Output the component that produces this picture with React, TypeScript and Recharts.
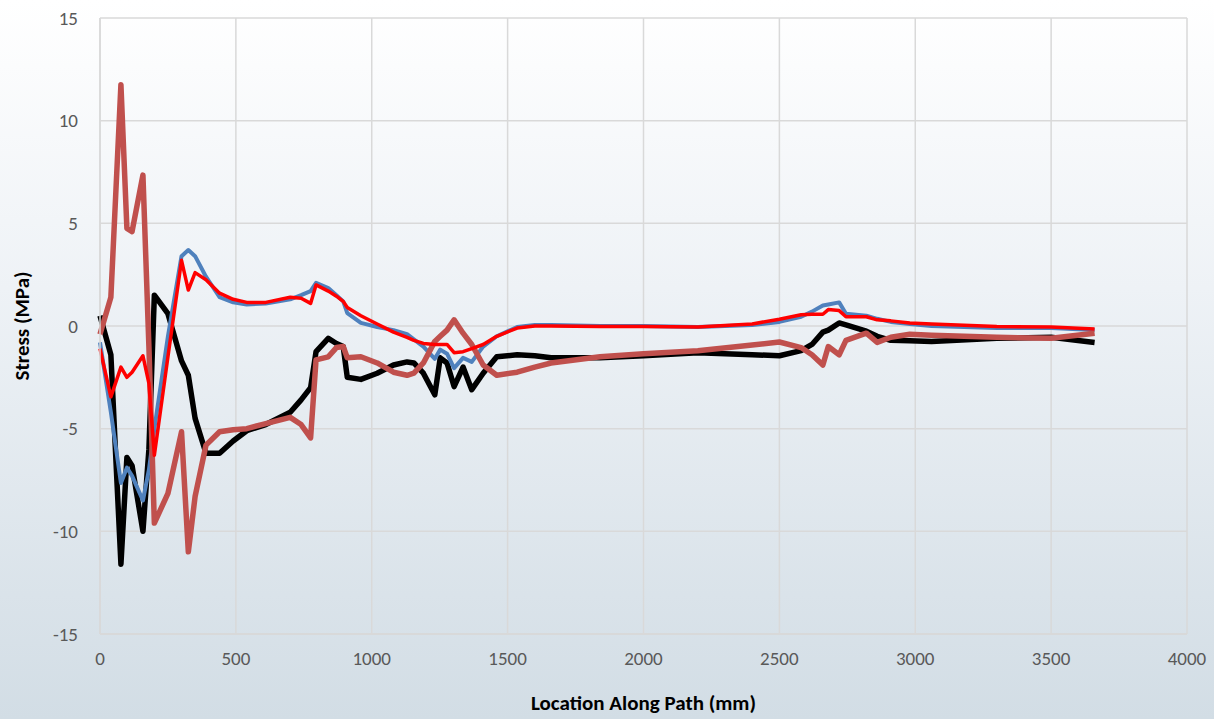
import { LineChart, Line, XAxis, YAxis, CartesianGrid } from "recharts";

// location along path (mm)
const locations = [
  0, 40, 77, 99, 118, 158, 180, 200, 250, 300, 325, 350, 390, 440, 490, 540, 610, 700, 740, 775,
  795, 840, 870, 895, 910, 960, 1020, 1080, 1130, 1155, 1190, 1232, 1252, 1277, 1303, 1336, 1368,
  1410, 1460, 1535, 1600, 1660, 1840, 2000, 2200, 2400, 2500, 2580, 2620, 2660, 2680, 2720, 2745,
  2820, 2860, 2910, 2980, 3060, 3300, 3500, 3660,
];

// stress (MPa)
const blackSeries = [
  0.5, -1.4, -11.6, -6.4, -6.8, -10.0, -6.0, 1.5, 0.6, -1.7, -2.4, -4.5, -6.2, -6.2, -5.6, -5.1, -4.8, -4.2, -3.6, -3.0,
  -1.25, -0.6, -0.85, -1.0, -2.5, -2.6, -2.3, -1.9, -1.75, -1.8, -2.3, -3.35, -1.55, -1.8, -2.95, -2.0, -3.1,
  -2.3, -1.5, -1.4, -1.45, -1.55, -1.55, -1.45, -1.3, -1.4, -1.45, -1.2, -0.9, -0.3, -0.2, 0.15, 0.05,
  -0.25, -0.5, -0.7, -0.72, -0.75, -0.6, -0.55, -0.8,
];

const blueSeries = [
  -0.8, -4.2, -7.65, -6.9, -7.3, -8.5, -7.0, -5.0, -0.5, 3.4, 3.7, 3.4, 2.4, 1.4, 1.15, 1.05, 1.1, 1.3, 1.5, 1.7,
  2.1, 1.85, 1.5, 1.2, 0.63, 0.15, -0.05, -0.2, -0.4, -0.65, -1.0, -1.6, -1.15, -1.35, -2.05, -1.55, -1.75,
  -1.0, -0.5, -0.05, 0.05, 0.05, 0.0, 0.0, -0.05, 0.05, 0.2, 0.45, 0.7, 1.0, 1.05, 1.15, 0.6,
  0.5, 0.35, 0.2, 0.1, 0.0, -0.1, -0.1, -0.2,
];

const brownSeries = [
  -0.4, 1.4, 11.75, 4.75, 4.6, 7.35, -1.0, -9.6, -8.15, -5.15, -11.0, -8.3, -5.8, -5.15, -5.05, -5.0, -4.75, -4.45, -4.8, -5.45,
  -1.65, -1.5, -1.05, -1.0, -1.55, -1.5, -1.8, -2.25, -2.4, -2.3, -1.8, -0.75, -0.5, -0.2, 0.3, -0.35, -0.9,
  -1.9, -2.4, -2.25, -2.0, -1.8, -1.5, -1.35, -1.2, -0.93, -0.78, -1.05, -1.4, -1.9, -1.0, -1.4, -0.7,
  -0.35, -0.8, -0.55, -0.4, -0.45, -0.55, -0.6, -0.35,
];

const redSeries = [
  -1.1, -3.45, -2.0, -2.5, -2.25, -1.45, -2.8, -6.3, -1.5, 3.2, 1.75, 2.6, 2.25, 1.6, 1.3, 1.15, 1.15, 1.4, 1.35, 1.1,
  2.0, 1.7, 1.45, 1.2, 0.9, 0.5, 0.1, -0.3, -0.55, -0.7, -0.85, -0.9, -0.9, -0.9, -1.3, -1.25, -1.1,
  -0.9, -0.5, -0.1, 0.0, 0.0, -0.03, -0.03, -0.05, 0.1, 0.33, 0.55, 0.57, 0.57, 0.8, 0.75, 0.45,
  0.45, 0.3, 0.25, 0.15, 0.1, -0.03, -0.05, -0.15,
];

const xTicks = [0, 500, 1000, 1500, 2000, 2500, 3000, 3500, 4000];
const yTicks = [-15, -10, -5, 0, 5, 10, 15];

const data = locations.map((x, i) => ({
  x,
  black: blackSeries[i],
  blue: blueSeries[i],
  brown: brownSeries[i],
  red: redSeries[i],
}));

const font = "Carlito, Calibri, 'Liberation Sans Narrow', 'Open Sans', sans-serif";

export default function App() {
  return (
    <div
      style={{
        position: "fixed",
        left: 0,
        top: 0,
        width: 1214,
        height: 719,
        background: "linear-gradient(180deg, #ffffff 0%, #eef2f6 40%, #d2dde5 100%)",
        fontFamily: font,
      }}
    >
      <LineChart width={1214} height={719} data={data} margin={{ top: 18, right: 27, left: 0, bottom: 0 }}>
        <CartesianGrid stroke="#d9d9d9" strokeWidth={1.5} />
        <XAxis
          dataKey="x"
          type="number"
          domain={[0, 4000]}
          ticks={xTicks}
          height={85}
          tickLine={false}
          tickSize={0}
          tickMargin={18}
          axisLine={{ stroke: "#d9d9d9", strokeWidth: 1.5 }}
          tick={{ fill: "#595959", fontSize: 19, fontFamily: font }}
          label={{
            value: "Location Along Path (mm)",
            position: "insideBottom",
            offset: 9,
            style: { fill: "#000", fontSize: 21, fontWeight: 700, fontFamily: font },
          }}
        />
        <YAxis
          type="number"
          domain={[-15, 15]}
          ticks={yTicks}
          width={100}
          tickLine={false}
          tickSize={0}
          tickMargin={22}
          axisLine={{ stroke: "#d9d9d9", strokeWidth: 1.5 }}
          tick={{ fill: "#595959", fontSize: 19, fontFamily: font }}
          label={{
            value: "Stress (MPa)",
            angle: -90,
            position: "insideLeft",
            offset: 22,
            style: { textAnchor: "middle", fill: "#000", fontSize: 21, fontWeight: 700, fontFamily: font },
          }}
        />
        <Line dataKey="black" stroke="#000000" strokeWidth={5.5} dot={false} isAnimationActive={false} strokeLinejoin="round" />
        <Line dataKey="blue" stroke="#4f81bd" strokeWidth={4} dot={false} isAnimationActive={false} strokeLinejoin="round" />
        <Line dataKey="brown" stroke="#c0504d" strokeWidth={5.5} dot={false} isAnimationActive={false} strokeLinejoin="round" />
        <Line dataKey="red" stroke="#ff0000" strokeWidth={3.5} dot={false} isAnimationActive={false} strokeLinejoin="round" />
      </LineChart>
    </div>
  );
}
